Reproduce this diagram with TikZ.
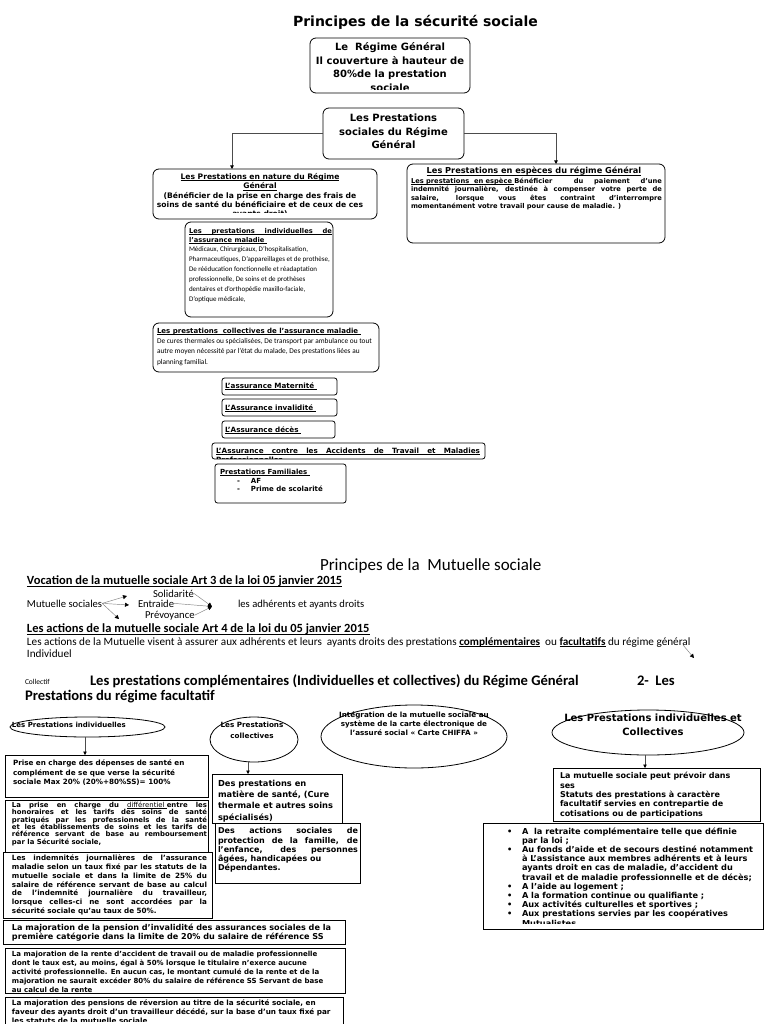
\documentclass[tikz,border=0pt]{standalone}
\usepackage{fontspec}
\setmainfont{DejaVu Sans}
\newfontfamily\calf{Carlito}
\usetikzlibrary{arrows.meta,calc,shapes.geometric}
\newcommand{\fsz}[2]{\fontsize{#1}{#2}\selectfont\lineskiplimit=-20pt\lineskip=0pt}
\newcommand{\rulh}{\rule{0pt}{1em}}
\newcommand{\jst}[2]{\makebox[#1][s]{#2}}
\newsavebox\ulbox
\newcommand{\ulx}[1]{\sbox\ulbox{#1}\rlap{\rule[-0.17em]{\wd\ulbox}{0.075em}}\usebox\ulbox}
\newcommand{\ulj}[2]{\rlap{\rule[-0.17em]{#1}{0.075em}}\jst{#1}{#2}}
\tikzset{
  bx/.style={draw=black, line width=0.8pt, inner sep=0pt, outer sep=0pt, fill=white},
  rbx/.style={bx, rounded corners=6pt},
  sbx/.style={bx, rounded corners=2.5pt},
  tx/.style={anchor=north west, inner sep=0pt, outer sep=0pt, align=left},
  tc/.style={anchor=north, inner sep=0pt, outer sep=0pt, align=center},
  tb/.style={anchor=base west, inner sep=0pt, outer sep=0pt},
  el/.style={draw=black, line width=0.8pt, ellipse, inner sep=0pt, outer sep=0pt},
  arr/.style={draw=black!70, line width=0.6pt, -{Triangle[length=3.5pt,width=3.5pt,color=black]}},
  thinarr/.style={draw=black!50, line width=0.45pt, -{Triangle[length=4pt,width=4pt,color=black]}},
}
\begin{document}
\begin{tikzpicture}[x=1pt,y=-1pt]
\useasboundingbox (0,0) rectangle (768,1024);
\fill[white] (0,0) rectangle (768,1024);

% ---------- Principes de la sécurité sociale ----------
\node[anchor=base, inner sep=0pt, font=\bfseries\fsz{14}{16}] (t1) at (415.5,27) {Principes de la sécurité sociale};

\node[rbx, minimum width=160pt, minimum height=55pt] (rg) at (390,65.5) {};
\begin{scope}
\clip (311,39) rectangle (469,89.5);
\node[tc, font=\bfseries\fsz{10}{13.5}] (rgt) at (390,40.8) {\rulh Le\ \ Régime Général\\Il couverture à hauteur de\\80\%de la prestation\\sociale};
\end{scope}

\node[rbx, minimum width=141pt, minimum height=51pt] (ps) at (393.5,133.5) {};
\node[tc, font=\bfseries\fsz{10}{13.5}] (pst) at (393.5,111.6) {\rulh Les Prestations\\sociales du Régime\\Général};

\coordinate (natin) at (232,169);
\coordinate (espin) at (556,164);
\draw[arr] (ps.west) -| (natin);
\draw[arr] (ps.east) -| (espin);

% en nature
\node[rbx, minimum width=224pt, minimum height=50pt] (nat) at (265,194) {};
\begin{scope}
\clip (154,170) rectangle (376,213);
\node[tc, font=\bfseries\fsz{7.6}{9.3}] (natt) at (260,172.1) {\rulh\ulx{Les Prestations en nature du Régime}\\\ulx{Général}\\(Bénéficier de la prise en charge des frais de\\soins de santé du bénéficiaire et de ceux de ces\\ayants droit)};
\end{scope}

% individuelles maladie
\node[rbx, minimum width=148pt, minimum height=95pt] (ind) at (259,269.5) {};
\node[tx, font=\bfseries\fsz{6.7}{9}] (indh) at (189,226.7) {\rulh\ulj{143pt}{Les prestations individuelles de}\\\ulx{l’assurance maladie\ }};
\node[tx, font=\calf\fsz{7}{10}] (indb) at (189,244.5) {\rulh Médicaux, Chirurgicaux, D’hospitalisation,\\Pharmaceutiques, D’appareillages et de prothèse,\\De rééducation fonctionnelle et réadaptation\\professionnelle, De soins et de prothèses\\dentaires et d’orthopédie maxillo-faciale,\\D’optique médicale,};

% collectives maladie
\node[rbx, minimum width=226pt, minimum height=49pt] (col) at (266,347.5) {};
\node[tx, font=\bfseries\fsz{7}{10}] (colh) at (157,326.5) {\rulh\ulx{Les prestations\ \ collectives de l’assurance maladie\ }};
\node[tx, font=\calf\fsz{7.35}{10.3}] (colb) at (157,336.3) {\rulh De cures thermales ou spécialisées, De transport par ambulance ou tout\\autre moyen nécessité par l’état du malade, Des prestations liées au\\planning familial.};

% small boxes
\node[sbx, minimum width=115pt, minimum height=17pt] (mat) at (279.5,386.5) {};
\node[tx, font=\bfseries\fsz{7.2}{9}] (matt) at (225,381.4) {\rulh\ulx{L’assurance Maternité\ }};
\node[sbx, minimum width=115pt, minimum height=17pt] (inv) at (279.5,407.5) {};
\node[tx, font=\bfseries\fsz{7.2}{9}] (invt) at (225,402.8) {\rulh\ulx{L’Assurance invalidité\ }};
\node[sbx, minimum width=113pt, minimum height=17pt] (dec) at (278.5,429.5) {};
\node[tx, font=\bfseries\fsz{7.2}{9}] (dect) at (225,424.8) {\rulh\ulx{L’Assurance décès\ }};
\node[sbx, minimum width=273pt, minimum height=16pt] (acc) at (348.5,451) {};
\begin{scope}
\clip (213,444) rectangle (484,458.5);
\node[tx, font=\bfseries\fsz{7.2}{9}] (acct) at (216,446.4) {\rulh\ulj{264pt}{L’Assurance contre les Accidents de Travail et Maladies}\\\ulx{Professionnelles}};
\end{scope}
\node[sbx, minimum width=131pt, minimum height=39pt] (fam) at (280.5,483.5) {};
\node[tx, font=\bfseries\fsz{7}{8.8}] (famt) at (220,467.2) {\rulh\ulx{Prestations Familiales\ }\\\hspace*{17pt}-\hspace{11pt}AF\\\hspace*{17pt}-\hspace{11pt}Prime de scolarité};

% en especes
\node[rbx, minimum width=258pt, minimum height=79pt] (esp) at (536,203.5) {};
\node[tc, font=\bfseries\fsz{8.2}{9}] (esph) at (534,165.7) {\rulh\ulx{Les Prestations en espèces du régime Général}};
\node[tx, font=\bfseries\fsz{6.7}{8.5}] (espb) at (411,176.6) {\rulh\jst{251pt}{\ulx{Les prestations\ \ en espèce\ }Bénéficier\ \ du paiement d’une}\\\jst{251pt}{indemnité journalière, destinée à compenser votre perte de}\\\jst{251pt}{salaire, lorsque vous êtes contraint d’interrompre}\\momentanément votre travail pour cause de maladie. )};

% ---------- Principes de la Mutuelle sociale ----------
\node[tb, font=\calf\fsz{17}{19}] (t2) at (320,570) {Principes de la\ \ Mutuelle sociale};
\node[tb, font=\calf\bfseries\fsz{12.5}{14}] (voc) at (27,584.8) {\ulx{Vocation de la mutuelle sociale Art 3 de la loi 05 janvier 2015}};
\node[tb, font=\calf\fsz{10.6}{12}] (sol) at (153,597) {Solidarité};
\node[tb, font=\calf\fsz{10.6}{12}] (ms) at (27,607) {Mutuelle sociales};
\node[tb, font=\calf\fsz{10.6}{12}] (ent) at (138,607) {Entraide};
\node[tb, font=\calf\fsz{10.6}{12}] (adh) at (238,607) {les adhérents et ayants droits};
\node[tb, font=\calf\fsz{10.6}{12}] (prev) at (145,618) {Prévoyance};
\coordinate (a1) at (127,596);
\coordinate (a2) at (129,605);
\coordinate (a3) at (119,619);
\draw[thinarr] (ms.east) -- (a1);
\draw[thinarr] (ms.east) -- (a2);
\draw[thinarr] (ms.east) -- (a3);
\coordinate (c1) at (212,606.5);
\draw[thinarr] (sol.east) -- (c1);
\draw[thinarr] (ent.east) -- (c1);
\draw[thinarr] (prev.east) -- (c1);
\node[tb, font=\calf\bfseries\fsz{12.5}{14}] (act) at (27,632.8) {\ulx{Les actions de la mutuelle sociale Art 4 de la loi du 05 janvier 2015}};
\node[tb, font=\calf\fsz{11.2}{12}] (actt) at (27,645) {Les actions de la Mutuelle visent à assurer aux adhérents et leurs\ \ ayants droits des prestations \textbf{\ulx{complémentaires}}\ \ ou \textbf{\ulx{facultatifs}} du régime général};
\node[tb, font=\calf\fsz{11.2}{12}] (indiv) at (27,657) {Individuel};
\coordinate (g1) at (683,645);
\coordinate (g2) at (694,658);
\draw[thinarr] (g1) -- (g2);
\node[tb, font=\calf\fsz{7.5}{9}] (coll) at (25,684.5) {Collectif};
\node[tb, font=\calf\bfseries\fsz{14.6}{16}] (pc) at (90,685) {Les prestations complémentaires (Individuelles et collectives) du Régime Général};
\node[tb, font=\calf\bfseries\fsz{14.6}{16}] (two) at (637,685) {2-\ \ Les};
\node[tb, font=\calf\bfseries\fsz{14.6}{16}] (pf) at (25,700) {Prestations du régime facultatif};

% ---------- left column ----------
\node[el, minimum width=155pt, minimum height=20pt] (e1) at (87.5,727) {};
\node[tb, font=\bfseries\fsz{7}{8}] (e1t) at (12,727.5) {Les Prestations individuelles};
\node[bx, minimum width=203pt, minimum height=42pt] (b1) at (106.5,776) {};
\draw[arr] ($(e1.south)+(-2.5,0)$) -- ($(e1.south |- b1.north)+(-2.5,0)$);
\node[tx, font=\bfseries\fsz{7.2}{9.5}] (b1t) at (13,758.4) {\rulh Prise en charge des dépenses de santé en\\complément de se que verse la sécurité\\sociale Max 20\% (20\%+80\%SS)= 100\%};

\node[bx, minimum width=203pt, minimum height=54pt] (b2) at (106.5,827) {};
\node[tx, font=\bfseries\fsz{6.9}{7.35}] (b2t) at (12,800.6) {\rulh\jst{195pt}{La prise en charge du {\mdseries\ulx{différentiel\ }}entre les}\\\jst{195pt}{honoraires et les tarifs des soins de santé}\\\jst{195pt}{pratiqués par les professionnels de la santé}\\\jst{195pt}{et les établissements de soins et les tarifs de}\\\jst{195pt}{référence servant de base au remboursement}\\par la Sécurité sociale,};

\node[bx, minimum width=209pt, minimum height=66pt] (b3) at (107.5,885) {};
\node[tx, font=\bfseries\fsz{7.2}{8.75}] (b3t) at (12,853.7) {\rulh\jst{195pt}{Les indemnités journalières de l’assurance}\\\jst{195pt}{maladie selon un taux fixé par les statuts de la}\\\jst{195pt}{mutuelle sociale et dans la limite de 25\% du}\\\jst{195pt}{salaire de référence servant de base au calcul}\\\jst{195pt}{de l’indemnité journalière du travailleur,}\\\jst{195pt}{lorsque celles-ci ne sont accordées par la}\\sécurité sociale qu’au taux de 50\%.};

\node[bx, minimum width=342pt, minimum height=24pt] (b4) at (174,932) {};
\node[tx, font=\bfseries\fsz{8.1}{9}] (b4t) at (12,922.8) {\rulh La majoration de la pension d’invalidité des assurances sociales de la\\première catégorie dans la limite de 20\% du salaire de référence SS};

\node[bx, minimum width=340pt, minimum height=45pt] (b5) at (175,970.5) {};
\node[tx, font=\bfseries\fsz{7}{8.9}] (b5t) at (12,949.5) {\rulh La majoration de la rente d’accident de travail ou de maladie professionnelle\\dont le taux est, au moins, égal à 50\% lorsque le titulaire n’exerce aucune\\activité professionnelle. En aucun cas, le montant cumulé de la rente et de la\\majoration ne saurait excéder 80\% du salaire de référence SS Servant de base\\au calcul de la rente};

\node[bx, minimum width=338pt, minimum height=40pt, anchor=north] (b6) at (174,997) {};
\begin{scope}
\clip (6,998) rectangle (342,1021);
\node[tx, font=\bfseries\fsz{7.25}{8.7}] (b6t) at (12,998.65) {\rulh La majoration des pensions de réversion au titre de la sécurité sociale, en\\faveur des ayants droit d’un travailleur décédé, sur la base d’un taux fixé par\\les statuts de la mutuelle sociale};
\end{scope}

% ---------- middle column ----------
\node[el, minimum width=88pt, minimum height=45pt] (e2) at (254,739.5) {};
\node[tc, font=\bfseries\fsz{7.2}{11}] (e2t) at (252,720.4) {\rulh Les Prestations\\collectives};
\node[bx, minimum width=130pt, minimum height=49pt] (b7) at (277,798.5) {};
\draw[arr] ($(e2.south)+(-6,0)$) -- ($(e2.south |- b7.north)+(-6,0)$);
\node[tx, font=\bfseries\fsz{8.3}{11.4}] (b7t) at (218,777.7) {\rulh Des prestations en\\matière de santé, (Cure\\thermale et autres soins\\spécialisés)};
\node[bx, minimum width=145pt, minimum height=60pt] (b8) at (287.5,853) {};
\node[tx, font=\bfseries\fsz{8}{9.25}] (b8t) at (218,825.9) {\rulh\jst{140pt}{Des actions sociales de}\\\jst{140pt}{protection de la famille, de}\\\jst{140pt}{l’enfance, des personnes}\\âgées, handicapées ou\\Dépendantes.};

\node[el, minimum width=186pt, minimum height=63pt] (e3) at (414,736.5) {};
\node[tc, font=\bfseries\fsz{7.2}{9}] (e3t) at (414,710.4) {\rulh Intégration de la mutuelle sociale au\\système de la carte électronique de\\l’assuré social « Carte CHIFFA »};

% ---------- right column ----------
\node[el, minimum width=192pt, minimum height=45pt] (e4) at (648,732.5) {};
\node[tc, font=\bfseries\fsz{10}{13.4}] (e4t) at (653,711.6) {\rulh Les Prestations individuelles et\\Collectives};
\node[bx, minimum width=207pt, minimum height=53pt] (b9) at (656.5,794.5) {};
\draw[arr] ($(e4.south)+(-3,0)$) -- ($(e4.south |- b9.north)+(-3,0)$);
\node[tx, font=\bfseries\fsz{8}{9.3}] (b9t) at (560,770.9) {\rulh La mutuelle sociale peut prévoir dans\\ses\\Statuts des prestations à caractère\\facultatif servies en contrepartie de\\cotisations ou de participations};

\node[bx, minimum width=280pt, minimum height=106pt] (b10) at (623,876) {};
\begin{scope}
\clip (484,824) rectangle (762,923.5);
\node[tx, font=\bfseries\fsz{8.2}{9.2}] (b10t) at (507,825.8) {\rulh\makebox[15pt][l]{•}A\ \ la retraite complémentaire telle que définie\\\hspace*{15pt}par la loi ;\\\makebox[15pt][l]{•}Au fonds d’aide et de secours destiné notamment\\\hspace*{15pt}à L’assistance aux membres adhérents et à leurs\\\hspace*{15pt}ayants droit en cas de maladie, d’accident du\\\hspace*{15pt}travail et de maladie professionnelle et de décès;\\\makebox[15pt][l]{•}A l’aide au logement ;\\\makebox[15pt][l]{•}A la formation continue ou qualifiante ;\\\makebox[15pt][l]{•}Aux activités culturelles et sportives ;\\\makebox[15pt][l]{•}Aux prestations servies par les coopératives\\\hspace*{15pt}Mutualistes.};
\end{scope}
\end{tikzpicture}
\end{document}
